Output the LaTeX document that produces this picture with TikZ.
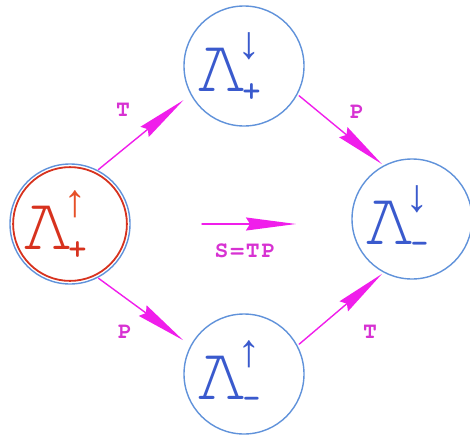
\documentclass[tikz,border=0pt]{standalone}
\usepackage{fontspec}
\usetikzlibrary{arrows.meta}
\newfontfamily\spinfont{Liberation Mono}
\newfontfamily\lamfont{texgyrecursor-regular.otf}
\newfontfamily\tagfont{texgyrecursor-bold.otf}
\definecolor{ringblue}{RGB}{96,146,218}
\definecolor{lamblue}{RGB}{58,90,205}
\definecolor{lamred}{RGB}{215,50,30}
\definecolor{spinred}{RGB}{230,80,40}
\definecolor{flowpink}{RGB}{240,30,235}
\definecolor{tagpink}{RGB}{215,50,210}
% Lambda with a spin arrow above and a sign below
\newcommand{\lamstate}[3]{{\lamfont\fontsize{77}{77}\selectfont Λ}\kern-1pt%
  \rlap{\kern-8pt\raisebox{33pt}{\color{#3}\spinfont\fontsize{46}{46}\selectfont #1}}%
  \raisebox{-7pt}{\tagfont\fontsize{28}{28}\selectfont #2}\kern30pt}
\begin{document}
\begin{tikzpicture}[x=1pt,y=-1pt,line cap=round,line join=round,
  state/.style={circle,draw=ringblue,line width=1.4pt,minimum size=120pt,inner sep=0pt,text=lamblue},
  flow/.style={draw=flowpink,line width=1.4pt,-{Stealth[length=50pt,width=13pt,inset=4pt]}},
  tag/.style={text=tagpink,font=\tagfont\addfontfeature{LetterSpace=8}\fontsize{23}{23}\selectfont}]
  \useasboundingbox (0,0) rectangle (470,439);
  \node[state,draw=lamred,line width=1.8pt,minimum size=113pt,text=lamred] (lp) at (70,224) {\lamstate{↑}{+}{spinred}};
  \draw[ringblue,line width=1.4pt] (lp) circle (60);
  \node[state] (tp) at (244,66) {\lamstate{↓}{+}{lamblue}};
  \node[state] (rm) at (412,219) {\lamstate{↓}{-}{lamblue}};
  \node[state] (bm) at (244,374) {\lamstate{↑}{-}{lamblue}};
  \draw[flow,shorten <=4pt,shorten >=9pt] (lp.64) -- (tp.208);
  \draw[flow,shorten <=2pt,shorten >=2pt] (tp.-28) -- (rm.118);
  \draw[flow,shorten <=4pt,shorten >=9pt] (lp.-64) -- (bm.152);
  \draw[flow,shorten <=2pt,shorten >=2pt] (bm.28) -- (rm.-118);
  \coordinate (sl) at (202,224);
  \coordinate (sr) at (296,224);
  \draw[flow] (sl) -- (sr);
  \node[tag] (t1) at (123,110) {T};
  \node[tag] (p1) at (357,112) {P};
  \node[tag] (p2) at (125,332) {P};
  \node[tag] (t2) at (370,332) {T};
  \node[tag] (st) at (245,251) {S=TP};
\end{tikzpicture}
\end{document}
